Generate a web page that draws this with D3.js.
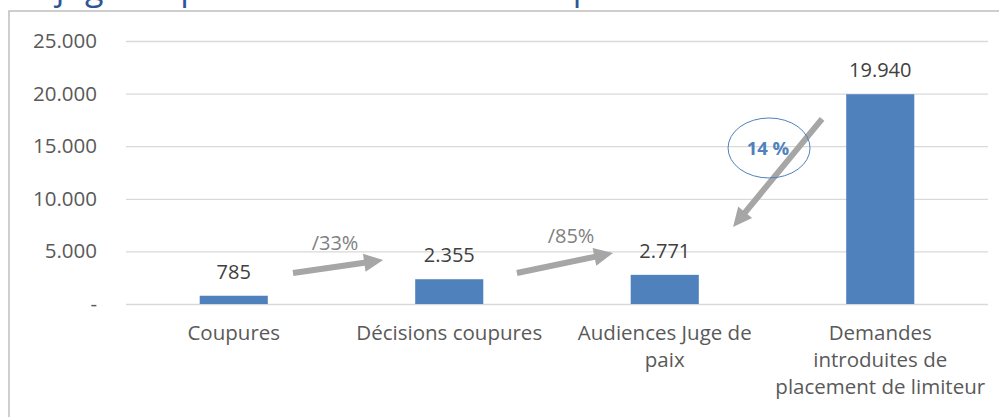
<!DOCTYPE html>
<html>
<head>
<meta charset="utf-8">
<script src="https://cdn.jsdelivr.net/npm/d3@7"></script>
<style>
  body { margin: 0; background: #fff; }
  text { font-family: "Open Sans", sans-serif; }
</style>
</head>
<body>
<div id="chart"></div>
<script>
const width = 999;
const height = 417;

// data
const categories = ["Coupures", "Décisions coupures", "Audiences Juge de paix",
  "Demandes introduites de placement de limiteur"];
const categoryLines = [["Coupures"], ["Décisions coupures"], ["Audiences Juge de", "paix"],
  ["Demandes", "introduites de", "placement de limiteur"]];
const values = [785, 2355, 2771, 19940];
const yTicks = [0, 5000, 10000, 15000, 20000, 25000];
const ratioLabels = ["/33%", "/85%", "14 %"];

// annotation shapes, in data units (category index, value)
const arrows = [
  { x0: 0.275, y0: 2950, x1: 0.693, y1: 4180 },
  { x0: 1.314, y0: 2950, x1: 1.760, y1: 4850 },
  { x0: 2.730, y0: 17590, x1: 2.317, y1: 7320 }
];
const ratioPos = [
  { x: 0.470, y: 5130 },
  { x: 1.565, y: 5800 },
  { x: 2.479, y: 14200 }
];

const svg = d3.select("#chart")
  .append("svg")
  .attr("width", width)
  .attr("height", height);

const plotLeft = 126, plotRight = 988, plotTop = 41, plotBottom = 304;

const x = d3.scaleBand()
  .domain(categories)
  .range([plotLeft, plotRight])
  .paddingInner(0.684)
  .paddingOuter(0.342);

const xi = d3.scaleLinear().domain([-0.5, 3.5]).range([plotLeft, plotRight]);

const y = d3.scaleLinear()
  .domain([0, 25000])
  .range([plotBottom, plotTop]);

const loc = d3.formatLocale({ decimal: ",", thousands: ".", grouping: [3], currency: ["", "€"] });
const fmt = loc.format(",d");

// title (cut off by the top of the picture, only descenders show)
svg.append("text")
  .attr("x", 10)
  .attr("y", 0)
  .attr("font-size", 34)
  .attr("fill", "#2F5597")
  .text("Le juge de paix et les demandes de placement de limiteur");

// outer frame
svg.append("rect")
  .attr("x", 9)
  .attr("y", 11)
  .attr("width", 1200)
  .attr("height", 600)
  .attr("fill", "#fff")
  .attr("stroke", "#BFBFBF")
  .attr("stroke-width", 1.5);

// grid + y labels
const yAxis = d3.axisLeft(y)
  .tickValues(yTicks)
  .tickSize(-(plotRight - plotLeft))
  .tickPadding(29)
  .tickFormat(d => d === 0 ? "-" : fmt(d));

const gy = svg.append("g")
  .attr("transform", `translate(${plotLeft},0)`)
  .call(yAxis);
gy.select(".domain").remove();
gy.selectAll(".tick line").attr("stroke", "#D9D9D9").attr("stroke-width", 1.3);
gy.selectAll(".tick text")
  .attr("fill", "#595959")
  .attr("font-size", 20.5)
  .attr("font-family", "Open Sans, sans-serif");

// bars
svg.selectAll(".bar")
  .data(values)
  .enter()
  .append("rect")
  .attr("class", "bar")
  .attr("x", (d, i) => x(categories[i]))
  .attr("y", d => y(d))
  .attr("width", x.bandwidth())
  .attr("height", d => y(0) - y(d))
  .attr("fill", "#4F81BD");

// value labels
svg.selectAll(".val")
  .data(values)
  .enter()
  .append("text")
  .attr("class", "val")
  .attr("x", (d, i) => x(categories[i]) + x.bandwidth() / 2)
  .attr("y", d => y(d) - 17)
  .attr("text-anchor", "middle")
  .attr("font-size", 20)
  .attr("fill", "#404040")
  .text(d => fmt(d));

// category labels
const xl = svg.selectAll(".cat")
  .data(categoryLines)
  .enter()
  .append("text")
  .attr("class", "cat")
  .attr("text-anchor", "middle")
  .attr("font-size", 20.5)
  .attr("fill", "#595959");
xl.selectAll("tspan")
  .data((d, i) => d.map(t => ({ t, i })))
  .enter()
  .append("tspan")
  .attr("x", d => x(categories[d.i]) + x.bandwidth() / 2)
  .attr("y", (d, j) => 340 + j * 27)
  .text(d => d.t);

// arrows
function arrowPath(a) {
  const x0 = xi(a.x0), y0 = y(a.y0), x1 = xi(a.x1), y1 = y(a.y1);
  const dx = x1 - x0, dy = y1 - y0, len = Math.hypot(dx, dy);
  const ux = dx / len, uy = dy / len, nx = -uy, ny = ux;
  const hl = 19, hw = 9, sw = 3;
  const bx = x1 - ux * hl, by = y1 - uy * hl;
  const pts = [
    [x0 + nx * sw, y0 + ny * sw],
    [bx + nx * sw, by + ny * sw],
    [bx + nx * hw, by + ny * hw],
    [x1, y1],
    [bx - nx * hw, by - ny * hw],
    [bx - nx * sw, by - ny * sw],
    [x0 - nx * sw, y0 - ny * sw]
  ];
  return "M" + pts.map(p => p.join(",")).join("L") + "Z";
}

svg.selectAll(".arrow")
  .data(arrows)
  .enter()
  .append("path")
  .attr("class", "arrow")
  .attr("d", arrowPath)
  .attr("fill", "#A6A6A6");

// ellipse around 14 %
svg.append("ellipse")
  .attr("cx", xi(2.484))
  .attr("cy", y(14830))
  .attr("rx", 41)
  .attr("ry", 30)
  .attr("fill", "none")
  .attr("stroke", "#4F81BD")
  .attr("stroke-width", 1);

// ratio labels
svg.selectAll(".ratio")
  .data(ratioLabels)
  .enter()
  .append("text")
  .attr("class", "ratio")
  .attr("x", (d, i) => xi(ratioPos[i].x))
  .attr("y", (d, i) => y(ratioPos[i].y))
  .attr("text-anchor", "middle")
  .attr("font-size", (d, i) => i === 2 ? 18.5 : 20)
  .attr("font-weight", (d, i) => i === 2 ? "bold" : "normal")
  .attr("fill", (d, i) => i === 2 ? "#4F81BD" : "#7F7F7F")
  .text(d => d);
</script>
</body>
</html>
